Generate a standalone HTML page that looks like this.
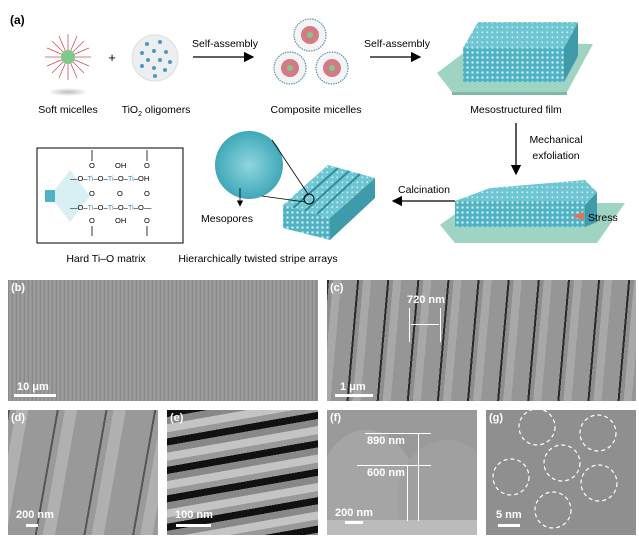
<!DOCTYPE html>
<html><head><meta charset="utf-8"><style>
html,body{margin:0;padding:0;background:#fff}
body{width:639px;height:545px;overflow:hidden;position:relative;font-family:"Liberation Sans",Arial,sans-serif}
.p{position:absolute;overflow:hidden}
.lbl{position:absolute;color:#fff;font-size:11px;font-weight:bold}
.sb{position:absolute;height:3px;background:#fff}
</style></head><body>
<svg width="639" height="280" style="position:absolute;left:0;top:0" font-family="Liberation Sans, Arial, sans-serif">
<defs>
<pattern id="dots" width="5" height="5" patternUnits="userSpaceOnUse"><rect width="5" height="5" fill="#4fb3c3"/><rect x="1.5" y="1.5" width="2" height="2" fill="#e8f8fb"/></pattern>
<pattern id="dots2" width="5" height="5" patternUnits="userSpaceOnUse"><rect width="5" height="5" fill="#6fc6d3"/><rect x="1.5" y="1.5" width="1.6" height="1.6" fill="#d0f0f5"/></pattern>
<radialGradient id="sh"><stop offset="0" stop-color="#bbb"/><stop offset="1" stop-color="#fff"/></radialGradient>
<radialGradient id="zc"><stop offset="0" stop-color="#8fd6e0"/><stop offset="1" stop-color="#3fa8b8"/></radialGradient>
<marker id="ah" markerWidth="8" markerHeight="8" refX="7" refY="4" orient="auto"><path d="M0,0 L8,4 L0,8 z" fill="#000"/></marker>
</defs>
<text x="10" y="24" font-size="12" font-weight="bold">(a)</text>
<ellipse cx="68" cy="92" rx="20" ry="4" fill="url(#sh)"/>
<g stroke="#c9525f" stroke-width="0.8">
<line x1="45" y1="57" x2="91" y2="57"/><line x1="68" y1="34" x2="68" y2="80"/><line x1="52" y1="41" x2="84" y2="73"/><line x1="84" y1="41" x2="52" y2="73"/>
<line x1="47" y1="48" x2="89" y2="66"/><line x1="47" y1="66" x2="89" y2="48"/><line x1="59" y1="36" x2="77" y2="78"/><line x1="77" y1="36" x2="59" y2="78"/>
</g><circle cx="68" cy="57" r="7" fill="#7fc98a"/>
<text x="112" y="62" font-size="13" text-anchor="middle">+</text>
<circle cx="155" cy="58" r="23" fill="#eceef0" stroke="#ddd"/>
<g fill="#4d98c2"><circle cx="147" cy="44" r="2"/><circle cx="160" cy="42" r="2"/><circle cx="142" cy="53" r="2"/><circle cx="154" cy="51" r="2"/><circle cx="166" cy="52" r="2"/><circle cx="148" cy="60" r="2"/><circle cx="160" cy="60" r="2"/><circle cx="170" cy="62" r="2"/><circle cx="142" cy="66" r="2"/><circle cx="154" cy="68" r="2"/><circle cx="165" cy="70" r="2"/><circle cx="155" cy="76" r="2"/></g>
<line x1="193" y1="57" x2="253" y2="57" stroke="#000" stroke-width="1.3" marker-end="url(#ah)"/>
<text x="225" y="47" font-size="10.5" text-anchor="middle">Self-assembly</text>
<g stroke="#5a8fb0" stroke-width="1.2" stroke-dasharray="1.5 1" fill="#f4f4f4">
<circle cx="310" cy="35" r="16"/><circle cx="290" cy="68" r="16"/><circle cx="332" cy="68" r="16"/></g>
<g fill="#d47a85"><circle cx="310" cy="35" r="9"/><circle cx="290" cy="68" r="9"/><circle cx="332" cy="68" r="9"/></g>
<g fill="#7fc98a"><circle cx="310" cy="35" r="3"/><circle cx="290" cy="68" r="3"/><circle cx="332" cy="68" r="3"/></g>
<line x1="370" y1="57" x2="420" y2="57" stroke="#000" stroke-width="1.3" marker-end="url(#ah)"/>
<text x="397" y="47" font-size="10.5" text-anchor="middle">Self-assembly</text>
<polygon points="437,73 478,42 593,44 567,92 452,92" fill="#9fd3c2"/>
<polygon points="452,92 567,92 567,95 452,95" fill="#7fb8a6"/>
<polygon points="463,48 478,22 578,22 564,48" fill="url(#dots2)"/>
<rect x="463" y="48" width="101" height="34" fill="url(#dots)"/>
<polygon points="564,48 578,22 578,56 564,82" fill="#3f9aaa"/>
<text x="68" y="113" font-size="10.5" text-anchor="middle">Soft micelles</text>
<text x="156" y="113" font-size="10.5" text-anchor="middle">TiO<tspan font-size="7" dy="3">2</tspan><tspan dy="-3"> oligomers</tspan></text>
<text x="316" y="113" font-size="10.5" text-anchor="middle">Composite micelles</text>
<text x="516" y="113" font-size="10.5" text-anchor="middle">Mesostructured film</text>
<line x1="516" y1="123" x2="516" y2="174" stroke="#000" stroke-width="1.3" marker-end="url(#ah)"/>
<text x="556" y="143" font-size="10.5" text-anchor="middle">Mechanical</text>
<text x="556" y="159" font-size="10.5" text-anchor="middle">exfoliation</text>
<polygon points="440,225 470,203 625,203 597,243 455,243" fill="#9fd3c2"/>
<polygon points="455,201 490,188 585,180 597,192 585,205" fill="url(#dots2)"/>
<rect x="455" y="201" width="130" height="26" fill="url(#dots)"/>
<polygon points="585,205 597,192 597,222 585,227" fill="#3f9aaa"/>
<polygon points="572,216 584,212 584,220" fill="#e8705a"/>
<text x="588" y="221" font-size="10.5">Stress</text>
<line x1="455" y1="201" x2="393" y2="201" stroke="#000" stroke-width="1.3" marker-end="url(#ah)"/>
<text x="424" y="193" font-size="10.5" text-anchor="middle">Calcination</text>
<!-- stripes -->
<polygon points="283,205 330,218 375,178 328,165" fill="url(#dots2)"/>
<g stroke="#2f8d9c" stroke-width="2"><line x1="293" y1="208" x2="338" y2="168"/><line x1="305" y1="211" x2="349" y2="171"/><line x1="317" y1="214" x2="360" y2="174"/></g>
<polygon points="283,205 330,218 330,240 283,228" fill="url(#dots)"/>
<polygon points="330,218 375,178 375,198 330,240" fill="#3f9aaa"/>
<circle cx="249" cy="165" r="34" fill="url(#zc)"/>
<circle cx="309" cy="199" r="5" fill="none" stroke="#000"/>
<line x1="262" y1="196" x2="305" y2="202" stroke="#000" stroke-width="0.8"/>
<line x1="272" y1="140" x2="308" y2="194" stroke="#000" stroke-width="0.8"/>
<line x1="240" y1="188" x2="240" y2="206" stroke="#000" stroke-width="0.8" marker-end="url(#ah)"/>
<text x="227" y="222" font-size="10.5" text-anchor="middle">Mesopores</text>
<text x="258" y="262" font-size="10.5" text-anchor="middle">Hierarchically twisted stripe arrays</text>
<rect x="37" y="148" width="146" height="95" fill="#fff" stroke="#000" stroke-width="1"/>
<polygon points="50,196 70,170 90,196 70,222" fill="#d8f0f3"/>
<rect x="45" y="190" width="10" height="12" fill="#4fb3c3"/>
<g font-size="7.5" fill="#000">
<text x="70" y="181">—O–<tspan fill="#4a90c0">Ti</tspan>–O–<tspan fill="#4a90c0">Ti</tspan>–O–<tspan fill="#4a90c0">Ti</tspan>–OH</text>
<text x="70" y="210">—O–<tspan fill="#4a90c0">Ti</tspan>–O–<tspan fill="#4a90c0">Ti</tspan>–O–<tspan fill="#4a90c0">Ti</tspan>–O—</text>
<text x="89" y="168">O</text><text x="115" y="168">OH</text><text x="144" y="168">O</text>
<text x="89" y="196">O</text><text x="117" y="196">O</text><text x="144" y="196">O</text>
<text x="89" y="223">O</text><text x="115" y="223">OH</text><text x="144" y="223">O</text>
</g>
<g stroke="#000" stroke-width="0.8"><line x1="92" y1="150" x2="92" y2="161"/><line x1="147" y1="150" x2="147" y2="161"/><line x1="92" y1="226" x2="92" y2="236"/><line x1="147" y1="226" x2="147" y2="236"/></g>
<text x="106" y="262" font-size="10.5" text-anchor="middle">Hard Ti–O matrix</text>
</svg>

<div class="p" style="left:8px;top:280px;width:310px;height:121px;background:repeating-linear-gradient(90deg,#8a8a8a 0 1px,#9c9c9c 1px 3px,#949494 3px 4px)"><span class="lbl" style="left:3px;top:2px">(b)</span><span class="lbl" style="left:9px;top:101px">10 μm</span><div class="sb" style="left:6px;top:114px;width:42px"></div></div>
<div class="p" style="left:327px;top:280px;width:309px;height:121px;background:repeating-linear-gradient(95deg,#2a2a2a 0 2px,#8e8e8e 2px 6px,#a8a8a8 6px 14px,#969696 14px 30px)"><span class="lbl" style="left:3px;top:2px">(c)</span><span class="lbl" style="left:80px;top:14px">720 nm</span><div style="position:absolute;left:82px;top:28px;width:1px;height:34px;background:#fff"></div><div style="position:absolute;left:113px;top:28px;width:1px;height:34px;background:#fff"></div><div style="position:absolute;left:84px;top:44px;width:28px;height:1px;background:#fff"></div><span class="lbl" style="left:13px;top:101px">1 μm</span><div class="sb" style="left:8px;top:114px;width:38px"></div></div>
<div class="p" style="left:8px;top:410px;width:150px;height:125px;background:repeating-linear-gradient(100deg,#555 0 2px,#9a9a9a 2px 8px,#b0b0b0 8px 20px,#999 20px 48px)"><span class="lbl" style="left:3px;top:2px">(d)</span><span class="lbl" style="left:8px;top:99px">200 nm</span><div class="sb" style="left:18px;top:114px;width:12px"></div></div>
<div class="p" style="left:167px;top:410px;width:151px;height:125px;background:repeating-linear-gradient(170deg,#111 0 7px,#888 7px 14px,#c4c4c4 14px 22px,#999 22px 28px)"><span class="lbl" style="left:3px;top:2px">(e)</span><span class="lbl" style="left:8px;top:99px">100 nm</span><div class="sb" style="left:9px;top:114px;width:35px"></div></div>
<div class="p" style="left:327px;top:410px;width:150px;height:125px;background:#9a9a9a"><div style="position:absolute;left:-10px;top:20px;width:100px;height:130px;border-radius:50%;background:#a5a5a5"></div><div style="position:absolute;left:70px;top:30px;width:100px;height:120px;border-radius:50%;background:#a0a0a0"></div><div style="position:absolute;left:0;top:110px;width:150px;height:15px;background:#bbb"></div><span class="lbl" style="left:3px;top:2px">(f)</span><div style="position:absolute;left:38px;top:23px;width:66px;height:1px;background:#fff"></div><div style="position:absolute;left:30px;top:55px;width:74px;height:1px;background:#fff"></div><div style="position:absolute;left:91px;top:23px;width:1px;height:88px;background:#fff"></div><div style="position:absolute;left:80px;top:55px;width:1px;height:56px;background:#fff"></div><span class="lbl" style="left:40px;top:25px">890 nm</span><span class="lbl" style="left:40px;top:57px">600 nm</span><span class="lbl" style="left:8px;top:97px">200 nm</span><div class="sb" style="left:18px;top:111px;width:18px"></div></div>
<div class="p" style="left:486px;top:410px;width:150px;height:125px;background:#8f8f8f"><span class="lbl" style="left:3px;top:2px">(g)</span>
<svg width="150" height="125" style="position:absolute;left:0;top:0"><g fill="none" stroke="#fff" stroke-width="1.2" stroke-dasharray="4 3"><circle cx="51" cy="17" r="18"/><circle cx="112" cy="23" r="18"/><circle cx="76" cy="53" r="18"/><circle cx="25" cy="67" r="18"/><circle cx="113" cy="73" r="18"/><circle cx="67" cy="100" r="18"/></g></svg>
<span class="lbl" style="left:10px;top:99px">5 nm</span><div class="sb" style="left:12px;top:114px;width:22px"></div></div>
</body></html>
